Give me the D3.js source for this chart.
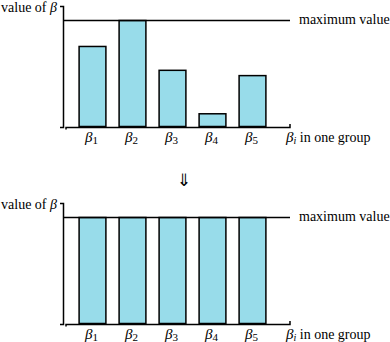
<!DOCTYPE html>
<html>
<head>
<meta charset="utf-8">
<script src="https://cdn.jsdelivr.net/npm/d3@7"></script>
<style>
  body { margin: 0; background: #fff; }
</style>
</head>
<body>
<div id="chart"></div>
<script>
// the data, one row of bars per panel
var categories = ["1", "2", "3", "4", "5"];
var beforeValues = [0.755, 1.0, 0.53, 0.12, 0.48];
var afterValues = [1.0, 1.0, 1.0, 1.0, 1.0];
var maxValue = 1.0;

var width = 390, height = 342;
var svg = d3.select("#chart").append("svg")
    .attr("width", width)
    .attr("height", height)
    .attr("font-family", "'Liberation Serif', 'Times New Roman', serif")
    .attr("font-size", 14);

var x = d3.scaleBand()
    .domain(categories)
    .range([72, 272])
    .paddingInner(0.33)
    .paddingOuter(0.165);

// draw one panel, offset vertically by dy
function drawPanel (values, dy) {
    var g = svg.append("g").attr("transform", "translate(0," + dy + ")");
    var base = 126.5, top = 20.5;
    var y = d3.scaleLinear().domain([0, maxValue]).range([base, top]);

    // bars
    g.selectAll("rect").data(values).enter().append("rect")
        .attr("x", function (d, i) { return x(categories[i]) + 0.5; })
        .attr("y", function (d) { return y(d); })
        .attr("width", x.bandwidth())
        .attr("height", function (d) { return base - y(d); })
        .attr("fill", "#98dcea")
        .attr("stroke", "#000")
        .attr("stroke-width", 1.5);

    // maximum line
    g.append("line")
        .attr("x1", 63).attr("x2", 290)
        .attr("y1", y(maxValue)).attr("y2", y(maxValue))
        .attr("stroke", "#000").attr("stroke-width", 1.5);

    // y axis with small end ticks
    g.append("path")
        .attr("d", "M60,6.5H63.5V127.5H60")
        .attr("fill", "none").attr("stroke", "#000").attr("stroke-width", 1.5);

    // x axis with small end ticks
    g.append("path")
        .attr("d", "M66,129.5V127.5H290V124")
        .attr("fill", "none").attr("stroke", "#000").attr("stroke-width", 1.5);

    // labels
    var yl = g.append("text").attr("x", 57).attr("y", 12).attr("text-anchor", "end");
    yl.append("tspan").text("value of ");
    yl.append("tspan").attr("font-style", "italic").text("β");

    g.append("text").attr("x", 299).attr("y", 24).text("maximum value");

    var xl = g.append("text").attr("x", 286).attr("y", 142);
    xl.append("tspan").attr("font-style", "italic").attr("font-size", 15).text("β");
    xl.append("tspan").attr("font-style", "italic").attr("font-size", 10).attr("dy", 2).text("i");
    xl.append("tspan").attr("dy", -2).text(" in one group");

    var tl = g.selectAll(".tick-label").data(categories).enter().append("text")
        .attr("class", "tick-label")
        .attr("x", function (d) { return x(d) + x.bandwidth() / 2 - 7; })
        .attr("y", 142);
    tl.append("tspan").attr("font-style", "italic").attr("font-size", 15).text("β");
    tl.append("tspan").attr("font-size", 11).attr("dy", 2).text(function (d) { return d; });
}

drawPanel(beforeValues, 0);
drawPanel(afterValues, 197);

// the arrow between the panels
svg.append("text")
    .attr("x", 184).attr("y", 186)
    .attr("text-anchor", "middle")
    .attr("font-family", "'DejaVu Sans', sans-serif")
    .attr("font-size", 17)
    .text("⇓");
</script>
</body>
</html>
